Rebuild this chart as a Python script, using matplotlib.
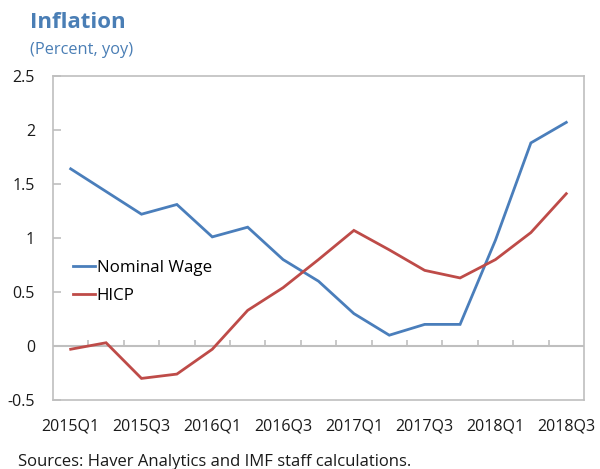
import matplotlib
matplotlib.use("Agg")
import matplotlib.pyplot as plt
import numpy as np

plt.rcParams['font.family'] = ['Open Sans', 'DejaVu Sans']

quarters = ["2015Q1", "2015Q2", "2015Q3", "2015Q4",
            "2016Q1", "2016Q2", "2016Q3", "2016Q4",
            "2017Q1", "2017Q2", "2017Q3", "2017Q4",
            "2018Q1", "2018Q2", "2018Q3"]
nominal_wage = [1.64, 1.43, 1.22, 1.31, 1.01, 1.10, 0.80, 0.60,
                0.30, 0.10, 0.20, 0.20, 0.98, 1.88, 2.07]
hicp = [-0.03, 0.03, -0.30, -0.26, -0.03, 0.33, 0.54, 0.80,
        1.07, 0.89, 0.70, 0.63, 0.80, 1.05, 1.41]
y_ticks = [-0.5, 0, 0.5, 1, 1.5, 2, 2.5]
y_tick_labels = ["-0.5", "0", "0.5", "1", "1.5", "2", "2.5"]

BLUE = "#4A7EBB"
RED = "#BE4B48"
GRID = "#BFBFBF"
TITLE = "#4A7EB5"

fig = plt.figure(figsize=(6.0, 4.69), dpi=100)
ax = fig.add_axes([0.0883, 0.1471, 0.885, 0.691])

x = np.arange(len(quarters))
ax.plot(x, nominal_wage, color=BLUE, lw=2.0, label="Nominal Wage",
        solid_joinstyle="miter")
ax.plot(x, hicp, color=RED, lw=2.0, label="HICP", solid_joinstyle="miter")

ax.set_xlim(-0.5, len(quarters) - 0.5)
ax.set_ylim(-0.5, 2.5)

# zero line with category separator ticks
ax.axhline(0, color=GRID, lw=1.5, zorder=0.5)
ax.vlines(x[:-1] + 0.5, 0, 0.055, color=GRID, lw=1.2, zorder=0.5)

for s in ax.spines.values():
    s.set_color(GRID)
    s.set_linewidth(1.2)

ax.set_yticks(y_ticks)
ax.set_yticklabels(y_tick_labels)
ax.tick_params(axis='y', direction='in', length=6, color=GRID, width=1.2,
               labelsize=11.5, labelcolor="#1a1a1a", pad=13)
for lbl in ax.get_yticklabels():
    lbl.set_horizontalalignment('right')

ax.set_xticks(x[::2])
ax.set_xticklabels(quarters[::2])
ax.tick_params(axis='x', length=0, labelsize=11.5, labelcolor="#1a1a1a", pad=13)

leg = ax.legend(loc="upper left", bbox_to_anchor=(0.015, 0.47), frameon=False,
                fontsize=12.2, handlelength=1.3, handletextpad=0.1,
                labelspacing=0.72, borderaxespad=0.3)

fig.text(0.05, 0.952, "Inflation", color=TITLE, fontsize=16,
         fontweight="bold", va="center", ha="left")
fig.text(0.05, 0.894, "(Percent, yoy)", color=TITLE, fontsize=11.8,
         va="center", ha="left")
fig.text(0.03, 0.015, "Sources: Haver Analytics and IMF staff calculations.",
         color="#1a1a1a", fontsize=12, va="center", ha="left")

fig.savefig("out.png", dpi=100)
